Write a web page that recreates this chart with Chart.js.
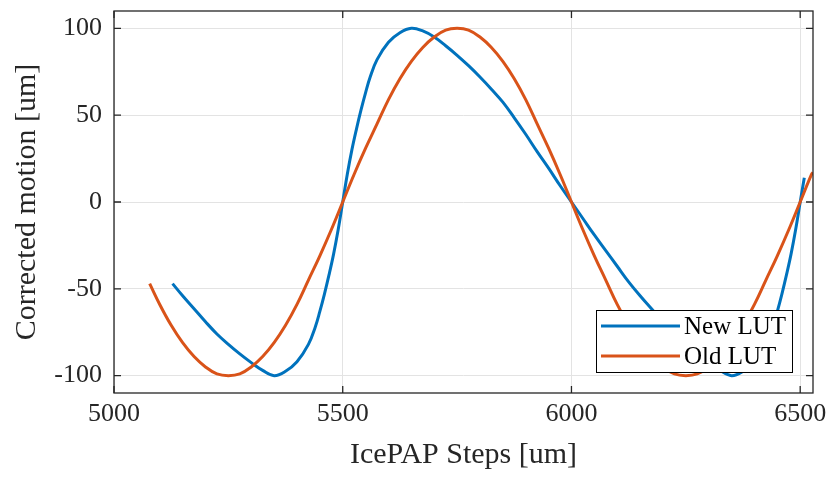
<!DOCTYPE html>
<html>
<head>
<meta charset="utf-8">
<script src="https://cdn.jsdelivr.net/npm/chart.js@4.4.1/dist/chart.umd.min.js"></script>
<style>
    html, body { margin: 0; padding: 0; background: #ffffff; }
    #wrap { width: 832px; height: 477px; }
</style>
</head>
<body>
<div id="wrap"><canvas id="lutChart" width="832" height="477"></canvas></div>
<script>
// New LUT
const newX = [5128, 5150, 5175, 5200, 5225, 5250, 5275, 5300, 5325, 5350,
    5375, 5400, 5425, 5440, 5450, 5460, 5470, 5480, 5490, 5500,
    5510, 5520, 5530, 5540, 5550, 5560, 5575, 5600, 5625, 5650,
    5675, 5700, 5725, 5750, 5775, 5800, 5825, 5850, 5875, 5900,
    5925, 5950, 5975, 6000, 6025, 6050, 6075, 6100, 6125, 6150,
    6175, 6200, 6225, 6250, 6275, 6300, 6325, 6350, 6375, 6400,
    6425, 6440, 6450, 6460, 6470, 6480, 6490, 6500, 6509];
const newY = [-47, -54, -61.5, -69, -76, -82, -87.5, -92.5, -97, -100,
    -97.5, -92, -82, -72, -63, -53, -42, -30, -16, 0,
    16, 30, 42, 53, 63, 72, 82, 92, 97.5, 100,
    98.5, 95, 90, 84.5, 78.5, 72, 65, 57.5, 48.5, 39,
    29, 19.5, 9.5, 0, -9.5, -19, -28, -37, -46, -54,
    -61.5, -69, -76, -82, -87.5, -92.5, -97, -100, -97.5, -92,
    -82, -72, -63, -53, -42, -30, -16, 0, 14];

// Old LUT
const oldX = [5078, 5100, 5125, 5150, 5175, 5200, 5225, 5250, 5275, 5300,
    5325, 5350, 5375, 5400, 5425, 5450, 5475, 5500, 5525, 5550,
    5575, 5600, 5625, 5650, 5675, 5700, 5725, 5750, 5775, 5800,
    5825, 5850, 5875, 5900, 5925, 5950, 5975, 6000, 6025, 6050,
    6075, 6100, 6125, 6150, 6175, 6200, 6225, 6250, 6275, 6300,
    6325, 6350, 6375, 6400, 6425, 6450, 6475, 6500, 6525, 6528];
const oldY = [-47, -59, -71, -81, -89, -95, -99, -100, -99, -95,
    -89, -81, -71, -59, -45, -31, -16, 0, 16, 31,
    45, 59, 71, 81, 89, 95, 99, 100, 99, 95,
    89, 81, 71, 59, 45, 31, 16, 0, -16, -31,
    -45, -59, -71, -81, -89, -95, -99, -100, -99, -95,
    -89, -81, -71, -59, -45, -31, -16, 0, 16, 17];

const xTicks = [5000, 5500, 6000, 6500];
const yTicks = [-100, -50, 0, 50, 100];
const seriesNames = ['New LUT', 'Old LUT'];
const seriesColors = ['#0072BD', '#D95319'];

const fontFamily = "'Liberation Serif', 'Times New Roman', serif";
const axisColor = '#262626';

function toPoints(xs, ys) {
    return xs.map((x, i) => ({ x: x, y: ys[i] }));
}

// Cadre + graduations vers l'intérieur (style MATLAB, box on)
const boxPlugin = {
    id: 'boxPlugin',
    afterDraw(chart) {
        const ctx = chart.ctx;
        const a = chart.chartArea;
        const xs = chart.scales.x;
        const ys = chart.scales.y;
        const len = 7;
        ctx.save();
        ctx.strokeStyle = axisColor;
        ctx.lineWidth = 1.3;
        ctx.beginPath();
        xTicks.forEach(v => {
            const px = xs.getPixelForValue(v);
            ctx.moveTo(px, a.bottom); ctx.lineTo(px, a.bottom - len);
            ctx.moveTo(px, a.top); ctx.lineTo(px, a.top + len);
        });
        yTicks.forEach(v => {
            const py = ys.getPixelForValue(v);
            ctx.moveTo(a.left, py); ctx.lineTo(a.left + len, py);
            ctx.moveTo(a.right, py); ctx.lineTo(a.right - len, py);
        });
        ctx.stroke();
        ctx.strokeRect(a.left, a.top, a.right - a.left, a.bottom - a.top);
        ctx.restore();
    }
};

// Légende en bas à droite, dans la zone du graphique
const legendPlugin = {
    id: 'legendPlugin',
    afterDraw(chart) {
        const ctx = chart.ctx;
        const a = chart.chartArea;
        const w = 196, h = 62;
        const x0 = a.right - 21 - w;
        const y0 = a.bottom - 21 - h;
        ctx.save();
        ctx.fillStyle = '#ffffff';
        ctx.fillRect(x0, y0, w, h);
        ctx.strokeStyle = '#000000';
        ctx.lineWidth = 1;
        ctx.strokeRect(x0 + 0.5, y0 + 0.5, w, h);
        ctx.font = '25px ' + fontFamily;
        ctx.textBaseline = 'middle';
        seriesNames.forEach((name, i) => {
            const ly = y0 + 16 + i * 30;
            ctx.strokeStyle = seriesColors[i];
            ctx.lineWidth = 3;
            ctx.beginPath();
            ctx.moveTo(x0 + 5, ly);
            ctx.lineTo(x0 + 84, ly);
            ctx.stroke();
            ctx.fillStyle = '#000000';
            ctx.fillText(name, x0 + 88, ly + 1);
        });
        ctx.restore();
    }
};

const ctx = document.getElementById('lutChart');
new Chart(ctx, {
    type: 'line',
    data: {
        datasets: [{
            label: seriesNames[0],
            data: toPoints(newX, newY),
            borderColor: seriesColors[0],
            borderWidth: 3,
            pointRadius: 0,
            tension: 0.4,
            fill: false,
            order: 1
        }, {
            label: seriesNames[1],
            data: toPoints(oldX, oldY),
            borderColor: seriesColors[1],
            borderWidth: 3,
            pointRadius: 0,
            tension: 0.4,
            fill: false,
            order: 0
        }]
    },
    options: {
        responsive: false,
        animation: false,
        layout: {
            padding: { top: 11, right: 19, left: 0, bottom: 0 }
        },
        plugins: {
            legend: { display: false },
            tooltip: { enabled: false }
        },
        scales: {
            x: {
                type: 'linear',
                min: 5000,
                max: 6528,
                afterBuildTicks: s => { s.ticks = xTicks.map(v => ({ value: v })); },
                afterFit: s => { s.height = 84; s.paddingLeft = 0; s.paddingRight = 0; },
                grid: { color: '#e3e3e3', drawTicks: false },
                border: { display: false },
                ticks: {
                    color: axisColor,
                    padding: 6,
                    maxRotation: 0,
                    font: { family: fontFamily, size: 26 },
                    callback: v => String(v)
                },
                title: {
                    display: true,
                    text: 'IcePAP Steps [um]',
                    color: axisColor,
                    font: { family: fontFamily, size: 30 },
                    padding: { top: 0, bottom: 4 }
                }
            },
            y: {
                type: 'linear',
                min: -110,
                max: 110,
                afterBuildTicks: s => { s.ticks = yTicks.map(v => ({ value: v })); },
                afterFit: s => { s.width = 114; s.paddingTop = 0; s.paddingBottom = 0; },
                grid: { color: '#e3e3e3', drawTicks: false },
                border: { display: false },
                ticks: {
                    color: axisColor,
                    padding: 12,
                    font: { family: fontFamily, size: 26 },
                    callback: v => String(v)
                },
                title: {
                    display: true,
                    text: 'Corrected motion [um]',
                    color: axisColor,
                    font: { family: fontFamily, size: 30 },
                    padding: { top: 9, bottom: 0 }
                }
            }
        }
    },
    plugins: [boxPlugin, legendPlugin]
});
</script>
</body>
</html>
